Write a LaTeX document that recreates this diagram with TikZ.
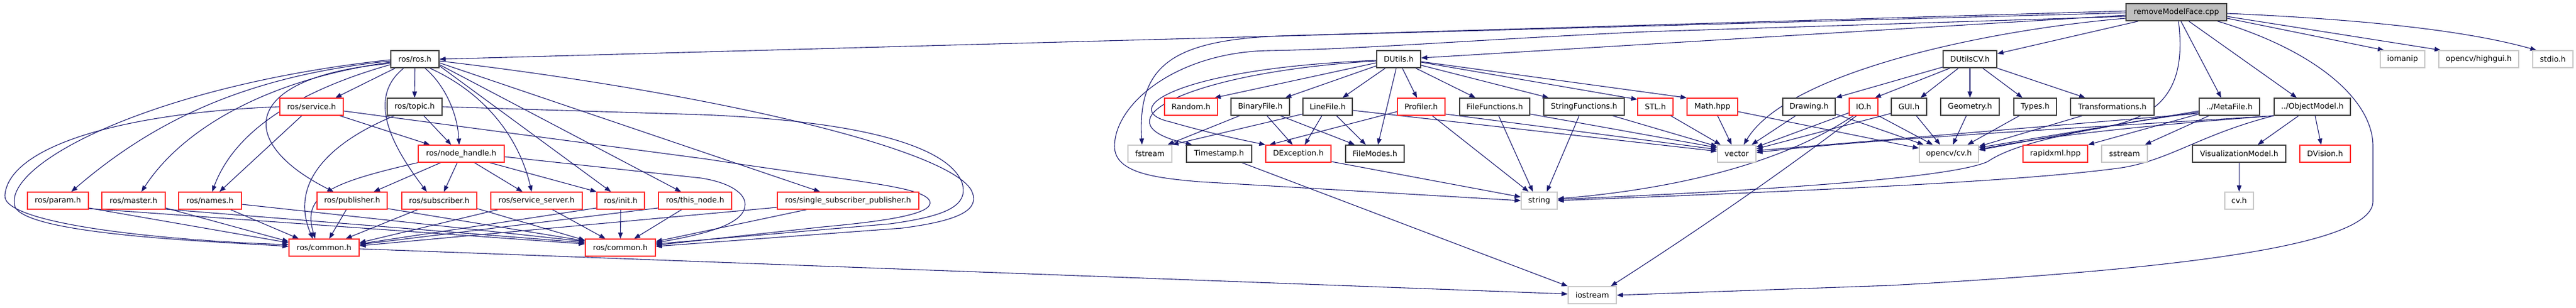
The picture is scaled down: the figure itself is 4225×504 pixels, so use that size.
\documentclass[tikz,border=0pt]{standalone}
\usepackage{fontspec}
\setmainfont{DejaVu Sans}
\usetikzlibrary{arrows.meta,calc}
\definecolor{edgec}{HTML}{191970}
\definecolor{redb}{HTML}{FF2A2A}
\definecolor{blkb}{HTML}{404040}
\definecolor{gryb}{HTML}{C8C8C8}
\definecolor{rootf}{HTML}{BFBFBF}
\pgfdeclarelayer{bg}
\pgfsetlayers{bg,main}
\tikzset{
  base/.style={draw, fill=white, inner sep=0pt, minimum height=28pt, font=\fontsize{12.5}{15}\selectfont},
  rbox/.style={base, draw=redb, line width=1.3pt},
  kbox/.style={base, draw=blkb, line width=1.6pt},
  gbox/.style={base, draw=gryb, line width=1.6pt},
  root/.style={base, draw=blkb, fill=rootf, line width=1.6pt},
  e/.style={draw=edgec, line width=1.1pt, -{Triangle[length=10pt,width=7.5pt]}, fill=none}
}
\begin{document}
\begin{tikzpicture}[x=1pt,y=-1pt]
\useasboundingbox (0,0) rectangle (4225,504);
% row 0
\node[root, minimum width=165pt] (R) at (3569.5,20) {removeModelFace.cpp};
% row 1
\node[kbox, minimum width=79pt] (RR) at (680.5,97) {ros/ros.h};
\node[kbox, minimum width=72pt] (DU) at (2294,97) {DUtils.h};
\node[kbox, minimum width=88pt] (DCV) at (3231,97) {DUtilsCV.h};
\node[gbox, minimum width=73pt] (iomanip) at (3940.5,97) {iomanip};
\node[gbox, minimum width=131pt] (highgui) at (4065.5,97) {opencv/highgui.h};
\node[gbox, minimum width=66pt] (stdio) at (4187,97) {stdio.h};
% row 2
\node[rbox, minimum width=104pt] (service) at (511,175) {ros/service.h};
\node[kbox, minimum width=90pt] (topic) at (680,175) {ros/topic.h};
\node[rbox, minimum width=87pt] (Random) at (1953.5,175) {Random.h};
\node[kbox, minimum width=96pt] (Binary) at (2067,175) {BinaryFile.h};
\node[kbox, minimum width=81pt] (LineFile) at (2177.5,175) {LineFile.h};
\node[rbox, minimum width=78pt] (Profiler) at (2331,175) {Profiler.h};
\node[kbox, minimum width=115pt] (FF) at (2451.5,175) {FileFunctions.h};
\node[kbox, minimum width=132pt] (SF) at (2598,175) {StringFunctions.h};
\node[rbox, minimum width=58pt] (STL) at (2715,175) {STL.h};
\node[rbox, minimum width=83pt] (Math) at (2808.5,175) {Math.hpp};
\node[kbox, minimum width=86pt] (Drawing) at (2967,175) {Drawing.h};
\node[rbox, minimum width=47pt] (IO) at (3056.5,175) {IO.h};
\node[kbox, minimum width=58pt] (GUI) at (3131,175) {GUI.h};
\node[kbox, minimum width=96pt] (Geometry) at (3231,175) {Geometry.h};
\node[kbox, minimum width=70pt] (Types) at (3338,175) {Types.h};
\node[kbox, minimum width=137pt] (Transf) at (3464.5,175) {Transformations.h};
\node[kbox, minimum width=99pt] (Meta) at (3656.5,175) {../MetaFile.h};
\node[kbox, minimum width=125pt] (OM) at (3792.5,175) {../ObjectModel.h};
% row 3
\node[rbox, minimum width=141pt] (nh) at (756.5,252) {ros/node\_handle.h};
\node[gbox, minimum width=72pt] (fstream) at (1886,252) {fstream};
\node[kbox, minimum width=107pt] (Timestamp) at (1999.5,252) {Timestamp.h};
\node[rbox, minimum width=107pt] (DException) at (2129.5,252) {DException.h};
\node[kbox, minimum width=96pt] (FileModes) at (2255,252) {FileModes.h};
\node[gbox, minimum width=63pt] (vector) at (2848.5,252) {vector};
\node[gbox, minimum width=97pt] (cvh) at (3196.5,252) {opencv/cv.h};
\node[rbox, minimum width=106pt] (rapidxml) at (3371,252) {rapidxml.hpp};
\node[gbox, minimum width=75pt] (sstream) at (3484.5,252) {sstream};
\node[kbox, minimum width=153pt] (VisModel) at (3672.5,252) {VisualizationModel.h};
\node[rbox, minimum width=83pt] (DVision) at (3813.5,252) {DVision.h};
% row 4
\node[rbox, minimum width=100pt] (param) at (95,329) {ros/param.h};
\node[rbox, minimum width=104pt] (master) at (219,329) {ros/master.h};
\node[rbox, minimum width=103pt] (names) at (344.5,329) {ros/names.h};
\node[rbox, minimum width=115pt] (publisher) at (577.5,329) {ros/publisher.h};
\node[rbox, minimum width=123pt] (subscriber) at (720.5,329) {ros/subscriber.h};
\node[rbox, minimum width=150pt] (sserver) at (880,329) {ros/service\_server.h};
\node[rbox, minimum width=78pt] (init) at (1018,329) {ros/init.h};
\node[rbox, minimum width=120pt] (thisnode) at (1140,329) {ros/this\_node.h};
\node[rbox, minimum width=232pt] (ssp) at (1391,329) {ros/single\_subscriber\_publisher.h};
\node[gbox, minimum width=59pt] (string) at (2524.5,329) {string};
\node[gbox, minimum width=47pt] (cvh2) at (3672.5,329) {cv.h};
% row 5
\node[rbox, minimum width=115pt] (CA) at (531.5,406) {ros/common.h};
\node[rbox, minimum width=115pt] (CB) at (1017.5,406) {ros/common.h};
% row 6
\node[gbox, minimum width=79pt] (iostream) at (2611.5,484) {iostream};

\begin{pgfonlayer}{bg}
% removeModelFace.cpp
\draw[e] (R.west |- 0,21) -- (RR.east);
\draw[e] (R.west |- 0,25) -- (DU.east |- 0,95);
\draw[e] (R.south -| 3507,0) -- (DCV.east |- 0,88);
\draw[e] (R.east |- 0,30) -- (iomanip.north -| 3910,0);
\draw[e] (R.east |- 0,27) -- (highgui.north -| 4003,0);
\draw[e] (R.east |- 0,22) .. controls (3950,35) and (4080,60) .. (stdio.north -| 4160,0);
\draw[e] (R.south -| 3577,0) -- (Meta.north -| 3643,0);
\draw[e] (R.south -| 3590,0) -- (OM.north -| 3767,0);
\draw[e] (R.south -| 3637,0) .. controls (3790,80) and (3892,160) .. (3892,240) -- (3892,330) .. controls (3892,400) and (3600,440) .. (3100,468) -- (iostream.east);
\draw[e] (R.south -| 3573,0) .. controls (3590,170) and (3520,200) .. (3420,214) -- (cvh.east |- 0,246);
\draw[e] (R.west |- 0,30) .. controls (3250,50) and (2930,120) .. (vector.north -| 2860,0);
\draw[e] (R.west |- 0,18) -- (2130,58) .. controls (1930,62) and (1865,100) .. (fstream.north -| 1873,0);
\draw[e] (R.west |- 0,27) -- (2700,52) .. controls (2400,66) and (2250,80) .. (2080,83) .. controls (1930,86) and (1828,170) .. (1828,240) .. controls (1828,285) and (1900,292) .. (1967,298) -- (string.west |- 0,329);
% ros/ros.h
\draw[e] (RR.south -| 648,0) -- (service.north -| 550,0);
\draw[e] (RR.south) -- (topic.north);
\draw[e] (RR.south -| 697,0) .. controls (725,135) and (750,180) .. (nh.north -| 753,0);
\draw[e] (RR.west |- 0,104) .. controls (400,125) and (380,230) .. (publisher.north -| 547,0);
\draw[e] (RR.south -| 662,0) .. controls (615,150) and (620,210) .. (subscriber.north -| 700,0);
\draw[e] (RR.south -| 705,0) .. controls (790,150) and (850,220) .. (sserver.north -| 872,0);
\draw[e] (RR.east |- 0,108) -- (init.north -| 1002,0);
\draw[e] (RR.east |- 0,106) -- (thisnode.north -| 1117,0);
\draw[e] (RR.east |- 0,103) -- (ssp.north -| 1345,0);
\draw[e] (RR.west |- 0,100) .. controls (400,125) and (250,200) .. (param.north -| 117,0);
\draw[e] (RR.west |- 0,102) .. controls (440,130) and (300,210) .. (master.north -| 232,0);
\draw[e] (RR.west |- 0,106) .. controls (520,140) and (390,200) .. (names.north -| 348,0);
\draw[e] (RR.west |- 0,98) .. controls (250,140) and (0,270) .. (25,340) .. controls (50,385) and (350,396) .. (CA.west |- 0,404);
\draw[e] (RR.east |- 0,100) .. controls (1150,150) and (1545,240) .. (1592,310) .. controls (1612,345) and (1570,362) .. (1480,374) -- (CB.east |- 0,404);
% ros/topic.h
\draw[e] (topic.south -| 695,0) -- (nh.north -| 740,0);
\draw[e] (topic.south -| 647,0) .. controls (560,225) and (470,290) .. (CA.north -| 513,0);
\draw[e] (topic.east) -- (1150,188) .. controls (1450,200) and (1560,250) .. (1578,300) .. controls (1590,340) and (1545,355) .. (1460,367) -- (CB.east |- 0,400);
% ros/service.h
\draw[e] (service.south -| 557,0) -- (nh.north -| 705,0);
\draw[e] (service.south -| 495,0) -- (names.north -| 360,0);
\draw[e] (service.west) .. controls (200,185) and (15,240) .. (8,320) .. controls (2,370) and (300,396) .. (CA.west |- 0,401);
\draw[e] (service.east |- 0,182) -- (1160,261) .. controls (1400,298) and (1515,305) .. (1525,330) .. controls (1532,350) and (1460,362) .. (1350,372) -- (CB.east |- 0,402);
% ros/node_handle.h
\draw[e] (nh.south -| 723,0) -- (publisher.north -| 613,0);
\draw[e] (nh.south -| 750,0) -- (subscriber.north -| 728,0);
\draw[e] (nh.south -| 778,0) -- (sserver.north -| 857,0);
\draw[e] (nh.south -| 803,0) -- (init.north west);
\draw[e] (nh.south west) .. controls (540,300) and (495,320) .. (CA.north -| 517,0);
\draw[e] (nh.east |- 0,257) -- (1150,292) .. controls (1200,300) and (1222,318) .. (1222,335) .. controls (1222,362) and (1180,380) .. (CB.east |- 0,398);
% lower ros headers
\draw[e] (publisher.south -| 568,0) -- (CA.north -| 540,0);
\draw[e] (publisher.east |- 0,342) -- (CB.west |- 0,395);
\draw[e] (subscriber.south -| 685,0) -- (CA.north -| 567,0);
\draw[e] (subscriber.east |- 0,342) -- (CB.west |- 0,394);
\draw[e] (sserver.south -| 906,0) -- (CB.north -| 993,0);
\draw[e] (sserver.south -| 817,0) -- (CA.east |- 0,398);
\draw[e] (init.south) -- (CB.north);
\draw[e] (init.west |- 0,341) -- (CA.east |- 0,400);
\draw[e] (thisnode.south -| 1118,0) -- (CB.north -| 1040,0);
\draw[e] (thisnode.west |- 0,341) -- (CA.east |- 0,401);
\draw[e] (ssp.south -| 1323,0) -- (CB.east |- 0,396);
\draw[e] (ssp.west |- 0,340) -- (CA.east |- 0,403);
\draw[e] (param.east |- 0,341) -- (CA.west |- 0,398);
\draw[e] (param.east |- 0,342) -- (CB.west |- 0,400);
\draw[e] (master.east |- 0,341) -- (CA.west |- 0,396);
\draw[e] (master.east |- 0,343) -- (CB.west |- 0,398);
\draw[e] (names.south -| 378,0) -- (CA.north -| 490,0);
\draw[e] (names.east |- 0,335) -- (CB.west |- 0,396);
\draw[e] (CA.east |- 0,408) -- (iostream.west |- 0,482);
% DUtils.h
\draw[e] (DU.west |- 0,103) -- (Random.north -| 1992,0);
\draw[e] (DU.west |- 0,108) -- (Binary.north -| 2108,0);
\draw[e] (DU.south -| 2272,0) -- (LineFile.north -| 2202,0);
\draw[e] (DU.south -| 2290,0) -- (FileModes.north -| 2260,0);
\draw[e] (DU.south -| 2300,0) -- (Profiler.north -| 2324,0);
\draw[e] (DU.south -| 2322,0) -- (FF.north -| 2420,0);
\draw[e] (DU.east |- 0,107) -- (SF.north -| 2540,0);
\draw[e] (DU.east |- 0,102) -- (STL.west |- 0,163);
\draw[e] (DU.east |- 0,101) -- (Math.north west);
\draw[e] (DU.west |- 0,100) .. controls (1950,118) and (1790,200) .. (Timestamp.north -| 1955,0);
\draw[e] (DU.west |- 0,99) .. controls (1930,112) and (1830,180) .. (1920,200) .. controls (1990,220) and (2040,230) .. (DException.north west);
% DUtils children
\draw[e] (Binary.south -| 2033,0) -- (fstream.north -| 1915,0);
\draw[e] (Binary.south -| 2078,0) -- (DException.north -| 2120,0);
\draw[e] (Binary.south -| 2100,0) -- (FileModes.north -| 2222,0);
\draw[e] (LineFile.west |- 0,187) -- (fstream.north east);
\draw[e] (LineFile.south -| 2168,0) -- (DException.north -| 2140,0);
\draw[e] (LineFile.south -| 2192,0) -- (FileModes.north -| 2240,0);
\draw[e] (LineFile.east |- 0,181) -- (vector.west |- 0,248);
\draw[e] (Profiler.west |- 0,183) -- (DException.north -| 2082,0);
\draw[e] (Profiler.south -| 2349,0) -- (string.north -| 2507,0);
\draw[e] (Profiler.east |- 0,187) -- (vector.west |- 0,245);
\draw[e] (FF.south -| 2458,0) -- (string.north -| 2514,0);
\draw[e] (FF.east |- 0,187) -- (vector.west |- 0,242);
\draw[e] (SF.south -| 2590,0) -- (string.north -| 2537,0);
\draw[e] (SF.south -| 2645,0) -- (vector.west |- 0,240);
\draw[e] (STL.south -| 2740,0) -- (vector.north -| 2822,0);
\draw[e] (Math.south -| 2817,0) -- (vector.north -| 2840,0);
\draw[e] (Math.east |- 0,183) -- (cvh.west |- 0,243);
\draw[e] (Timestamp.south -| 2037,0) -- (iostream.north west);
\draw[e] (DException.east |- 0,265) -- (string.west |- 0,323);
% DUtilsCV.h
\draw[e] (DCV.west |- 0,110) -- (Drawing.north east);
\draw[e] (DCV.south -| 3198,0) -- (IO.north -| 3075,0);
\draw[e] (DCV.south -| 3212,0) -- (GUI.north -| 3150,0);
\draw[e] (DCV.south) -- (Geometry.north);
\draw[e] (DCV.south -| 3252,0) -- (Types.north -| 3317,0);
\draw[e] (DCV.south east) -- (Transf.north -| 3420,0);
\draw[e] (Drawing.south -| 2945,0) -- (vector.north -| 2873,0);
\draw[e] (Drawing.east |- 0,187) -- (cvh.north -| 3155,0);
\draw[e] (IO.west |- 0,185) -- (vector.east |- 0,241);
\draw[e] (IO.south east) -- (cvh.north -| 3170,0);
\draw[e] (IO.south -| 3040,0) .. controls (2950,250) and (2800,305) .. (string.east |- 0,326);
\draw[e] (IO.south -| 3045,0) .. controls (2900,300) and (2750,400) .. (iostream.north -| 2642,0);
\draw[e] (GUI.west |- 0,186) -- (vector.east |- 0,244);
\draw[e] (GUI.south -| 3143,0) -- (cvh.north -| 3182,0);
\draw[e] (Geometry.south -| 3225,0) -- (cvh.north -| 3203,0);
\draw[e] (Types.south -| 3312,0) -- (cvh.north -| 3227,0);
\draw[e] (Transf.south -| 3415,0) -- (cvh.east |- 0,240);
% MetaFile / ObjectModel
\draw[e] (Meta.west |- 0,187) -- (rapidxml.north east);
\draw[e] (Meta.south -| 3623,0) -- (sstream.north -| 3518,0);
\draw[e] (Meta.west |- 0,182) -- (cvh.east |- 0,242);
\draw[e] (Meta.west |- 0,186) -- (vector.east |- 0,247);
\draw[e] (Meta.west |- 0,184) .. controls (3350,220) and (3290,245) .. (3260,265) .. controls (3200,292) and (2900,312) .. (string.east |- 0,327);
\draw[e] (OM.south -| 3770,0) -- (VisModel.north -| 3703,0);
\draw[e] (OM.south -| 3797,0) -- (DVision.north -| 3807,0);
\draw[e] (OM.south west) .. controls (3600,200) and (3400,215) .. (cvh.east |- 0,245);
\draw[e] (OM.south west) .. controls (3500,205) and (3100,225) .. (vector.east |- 0,250);
\draw[e] (OM.south west) .. controls (3610,220) and (3560,262) .. (3480,275) .. controls (3300,300) and (2900,315) .. (string.east |- 0,329);
\draw[e] (VisModel.south) -- (cvh2.north);
\end{pgfonlayer}
\end{tikzpicture}
\end{document}
